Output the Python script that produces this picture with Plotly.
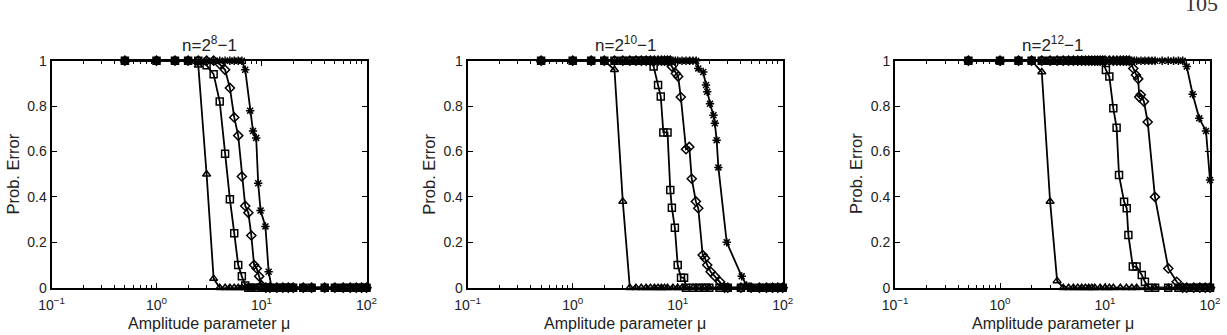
import plotly.graph_objects as go

# ---------------- data ----------------
tick_vals = [0.1, 1, 10, 100]
tick_text = ["10<sup>−1</sup>", "10<sup>0</sup>", "10<sup>1</sup>", "10<sup>2</sup>"]
y_ticks = [0, 0.2, 0.4, 0.6, 0.8, 1]
titles = ["n=2<sup>8</sup>−1", "n=2<sup>10</sup>−1", "n=2<sup>12</sup>−1"]

# ----- panel 1 : n = 2^8 - 1 -----
p1_tri_x = [0.5, 1, 1.5, 2, 2.5, 3, 3.5, 4, 4.5, 5, 5.5, 6, 6.5, 7, 7.5, 8, 9, 10, 11, 12, 14, 16, 18, 20, 25, 30, 40, 50, 60, 70, 80, 90, 100]
p1_tri_y = [1, 1, 1, 1, 0.98, 0.50, 0.04, 0, 0, 0, 0, 0, 0, 0, 0, 0, 0, 0, 0, 0, 0, 0, 0, 0, 0, 0, 0, 0, 0, 0, 0, 0, 0]

p1_sq_x = [0.5, 1, 1.5, 2, 2.5, 3, 3.5, 4, 4.5, 5, 5.5, 6, 6.5, 7, 7.5, 8, 9, 10, 11, 12, 14, 16, 18, 20, 25, 30, 40, 50, 60, 70, 80, 90, 100]
p1_sq_y = [1, 1, 1, 1, 1, 0.98, 0.94, 0.82, 0.59, 0.39, 0.24, 0.10, 0.05, 0.01, 0, 0, 0, 0, 0, 0, 0, 0, 0, 0, 0, 0, 0, 0, 0, 0, 0, 0, 0]

p1_dia_x = [0.5, 1, 1.5, 2, 2.5, 3, 3.5, 4, 4.5, 5, 5.5, 6, 6.5, 7, 7.5, 8, 8.5, 9, 9.5, 10, 11, 12, 14, 16, 18, 20, 25, 30, 40, 50, 60, 70, 80, 90, 100]
p1_dia_y = [1, 1, 1, 1, 1, 1, 1, 0.985, 0.96, 0.88, 0.75, 0.67, 0.49, 0.36, 0.33, 0.23, 0.10, 0.085, 0.05, 0.01, 0, 0, 0, 0, 0, 0, 0, 0, 0, 0, 0, 0, 0, 0, 0]

p1_star_x = [0.5, 1, 1.5, 2, 2.5, 3, 3.5, 4, 4.5, 5, 5.5, 6, 6.5, 7, 7.8, 8.3, 8.9, 9.3, 9.8, 10.9, 11.7, 12.5, 14, 16, 18, 20, 25, 30, 40, 50, 60, 70, 80, 90, 100]
p1_star_y = [1, 1, 1, 1, 1, 1, 1, 1, 1, 1, 1, 1, 1, 0.96, 0.78, 0.69, 0.66, 0.46, 0.34, 0.27, 0.07, 0, 0, 0, 0, 0, 0, 0, 0, 0, 0, 0, 0, 0, 0]

# ----- panel 2 : n = 2^10 - 1 -----
p2_tri_x = [0.5, 1, 1.5, 2, 2.5, 3, 3.5, 4, 4.5, 5, 5.5, 6, 6.5, 7, 7.5, 8, 9, 10, 11, 12, 14, 16, 18, 20, 25, 30, 40, 50, 60, 70, 80, 90, 100]
p2_tri_y = [1, 1, 1, 1, 0.96, 0.38, 0, 0, 0, 0, 0, 0, 0, 0, 0, 0, 0, 0, 0, 0, 0, 0, 0, 0, 0, 0, 0, 0, 0, 0, 0, 0, 0]

p2_sq_x = [0.5, 1, 1.5, 2, 2.5, 3, 3.5, 4, 4.5, 5, 5.5, 5.9, 6.5, 6.9, 7.3, 8.0, 8.5, 8.8, 9.4, 10, 10.75, 11.5, 12, 14, 16, 18, 20, 25, 30, 40, 50, 60, 70, 80, 90, 100]
p2_sq_y = [1, 1, 1, 1, 1, 1, 1, 1, 1, 1, 1, 0.974, 0.893, 0.842, 0.684, 0.684, 0.43, 0.352, 0.264, 0.10, 0.044, 0.044, 0, 0, 0, 0, 0, 0, 0, 0, 0, 0, 0, 0, 0, 0]

p2_dia_x = [0.5, 1, 1.5, 2, 2.5, 3, 3.5, 4, 4.5, 5, 5.5, 6, 6.5, 7, 7.5, 8, 8.5, 8.8, 9.6, 10.1, 10.7, 12, 12.9, 13.6, 14.9, 15.7, 17.3, 18.2, 19.1, 20.6, 22.6, 25.3, 28, 30, 40, 50, 60, 70, 80, 90, 100]
p2_dia_y = [1, 1, 1, 1, 1, 1, 1, 1, 1, 1, 1, 1, 1, 1, 1, 1, 1, 0.974, 0.944, 0.93, 0.84, 0.61, 0.62, 0.48, 0.38, 0.35, 0.144, 0.13, 0.10, 0.07, 0.05, 0.026, 0, 0, 0, 0, 0, 0, 0, 0, 0]

p2_star_x = [0.5, 1, 1.5, 2, 2.5, 3, 3.5, 4, 4.5, 5, 5.5, 6, 6.5, 7, 7.5, 8, 8.5, 9, 9.5, 10, 11, 12, 13, 14, 15, 15.7, 17.5, 18.6, 19.1, 20.3, 21.9, 22.6, 23.5, 24.4, 29.3, 40.7, 45.4, 50, 60, 70, 80, 90, 100]
p2_star_y = [1, 1, 1, 1, 1, 1, 1, 1, 1, 1, 1, 1, 1, 1, 1, 1, 1, 1, 1, 1, 1, 1, 1, 1, 1, 0.966, 0.95, 0.893, 0.863, 0.81, 0.76, 0.724, 0.65, 0.53, 0.20, 0.05, 0.01, 0, 0, 0, 0, 0, 0]

# ----- panel 3 : n = 2^12 - 1 -----
p3_tri_x = [0.5, 1, 1.5, 2, 2.5, 3, 3.5, 4, 4.5, 5, 5.5, 6, 6.5, 7, 7.5, 8, 9, 10, 11, 12, 14, 16, 18, 20, 25, 30, 40, 50, 60, 70, 80, 90, 100]
p3_tri_y = [1, 1, 1, 1, 0.95, 0.38, 0.03, 0, 0, 0, 0, 0, 0, 0, 0, 0, 0, 0, 0, 0, 0, 0, 0, 0, 0, 0, 0, 0, 0, 0, 0, 0, 0]

p3_sq_x = [0.5, 1, 1.5, 2, 2.5, 3, 3.5, 4, 4.5, 5, 5.5, 6, 6.5, 7, 7.5, 8, 8.5, 9, 9.5, 10.2, 11, 12, 12.9, 13.6, 15.2, 16.1, 16.7, 18.4, 20, 22.4, 24, 26, 30, 40, 50, 60, 70, 80, 90, 100]
p3_sq_y = [1, 1, 1, 1, 1, 1, 1, 1, 1, 1, 1, 1, 1, 1, 1, 1, 1, 1, 1, 0.959, 0.93, 0.79, 0.705, 0.496, 0.379, 0.35, 0.232, 0.093, 0.093, 0.056, 0.026, 0, 0, 0, 0, 0, 0, 0, 0, 0]

p3_dia_x = [0.5, 1, 1.5, 2, 2.5, 3, 3.5, 4, 4.5, 5, 5.5, 6, 6.5, 7, 7.5, 8, 8.5, 9, 9.5, 10, 11, 12, 13, 14, 15, 16, 17, 18.6, 19.7, 20.7, 21.2, 21.9, 23.5, 25.5, 29.9, 40.1, 48.2, 55, 60, 70, 80, 90, 100]
p3_dia_y = [1, 1, 1, 1, 1, 1, 1, 1, 1, 1, 1, 1, 1, 1, 1, 1, 1, 1, 1, 1, 1, 1, 1, 1, 1, 1, 1, 0.966, 0.937, 0.92, 0.84, 0.85, 0.82, 0.73, 0.40, 0.085, 0.026, 0, 0, 0, 0, 0, 0]

p3_star_x = [0.5, 1, 1.5, 2, 2.5, 3, 3.5, 4, 4.5, 5, 5.5, 6, 6.5, 7, 7.5, 8, 8.5, 9, 9.5, 10, 11, 12, 13, 14, 15, 16, 17, 18, 19, 20, 22, 24, 26, 28, 30, 35, 40, 45, 50, 55, 60, 68.4, 79, 91.6, 100]
p3_star_y = [1, 1, 1, 1, 1, 1, 1, 1, 1, 1, 1, 1, 1, 1, 1, 1, 1, 1, 1, 1, 1, 1, 1, 1, 1, 1, 1, 1, 1, 1, 1, 1, 1, 1, 1, 1, 1, 1, 1, 1, 0.974, 0.852, 0.746, 0.69, 0.474]

panels = [
    [(p1_tri_x, p1_tri_y), (p1_sq_x, p1_sq_y), (p1_dia_x, p1_dia_y), (p1_star_x, p1_star_y)],
    [(p2_tri_x, p2_tri_y), (p2_sq_x, p2_sq_y), (p2_dia_x, p2_dia_y), (p2_star_x, p2_star_y)],
    [(p3_tri_x, p3_tri_y), (p3_sq_x, p3_sq_y), (p3_dia_x, p3_dia_y), (p3_star_x, p3_star_y)],
]

# ---------------- styling / layout ----------------
W, H = 1227, 335
symbols = ["triangle-up-open", "square-open", "diamond-open", "asterisk-open"]
FONT = "Liberation Sans, Arial, sans-serif"
TXT = "#222222"

plot_left = [51.5, 467.7, 895.0]
plot_width = 315.0
plot_top, plot_bottom = 60.7, 287.7

minor_vals = [m * 10 ** e for e in (-1, 0, 1) for m in range(2, 10)]

fig = go.Figure()
layout = dict(
    template="none",
    width=W, height=H,
    margin=dict(l=0, r=0, t=0, b=0, pad=0, autoexpand=False),
    paper_bgcolor="white", plot_bgcolor="white",
    showlegend=False,
    font=dict(family=FONT, color=TXT),
)
annotations = []

for i, series in enumerate(panels):
    sfx = "" if i == 0 else str(i + 1)
    for (xs, ys), sym in zip(series, symbols):
        fig.add_trace(go.Scatter(
            x=xs, y=ys, mode="lines+markers",
            xaxis="x" + sfx, yaxis="y" + sfx,
            cliponaxis=False,
            line=dict(color="black", width=1.8),
            marker=dict(symbol=sym, size=7, color="black",
                        line=dict(color="black", width=1.5)),
            hoverinfo="skip",
        ))
    x0 = plot_left[i] / W
    x1 = (plot_left[i] + plot_width) / W
    y0 = 1 - plot_bottom / H
    y1 = 1 - plot_top / H
    layout["xaxis" + sfx] = dict(
        type="log", range=[-1, 2], domain=[x0, x1], anchor="y" + sfx,
        automargin=False,
        tickmode="array", tickvals=tick_vals, ticktext=tick_text,
        ticks="inside", ticklen=5, tickwidth=1, tickcolor="black",
        ticklabelstandoff=3,
        showline=True, linecolor="black", linewidth=2, mirror="ticks",
        showgrid=False, zeroline=False,
        tickfont=dict(size=14, family=FONT, color=TXT),
        minor=dict(tickmode="array", tickvals=minor_vals, ticks="inside",
                   ticklen=3, tickcolor="black", showgrid=False),
    )
    layout["yaxis" + sfx] = dict(
        range=[0, 1], domain=[y0, y1], anchor="x" + sfx,
        automargin=False,
        tickmode="array", tickvals=y_ticks,
        ticktext=["0", "0.2", "0.4", "0.6", "0.8", "1"],
        ticks="inside", ticklen=5, tickwidth=1, tickcolor="black",
        showline=True, linecolor="black", linewidth=2, mirror="ticks",
        showgrid=False, zeroline=False,
        tickfont=dict(size=14, family=FONT, color=TXT),
    )
    cx = (plot_left[i] + plot_width / 2) / W
    annotations.append(dict(
        text=titles[i], x=cx, y=1 - 44 / H, xref="paper", yref="paper",
        xanchor="center", yanchor="middle", showarrow=False,
        font=dict(size=17, family=FONT, color=TXT),
    ))
    annotations.append(dict(
        text="Amplitude parameter μ", x=cx, y=1 - 323 / H, xref="paper", yref="paper",
        xanchor="center", yanchor="middle", showarrow=False,
        font=dict(size=16, family=FONT, color=TXT),
    ))
    annotations.append(dict(
        text="Prob. Error", x=(plot_left[i] - 39) / W, y=1 - 174 / H,
        xref="paper", yref="paper", xanchor="center", yanchor="middle",
        textangle=-90, showarrow=False,
        font=dict(size=16.5, family=FONT, color=TXT),
    ))

annotations.append(dict(
    text="105", x=1183 / W, y=1 - 18 / H, xref="paper", yref="paper",
    xanchor="left", yanchor="bottom", showarrow=False,
    font=dict(size=22, family="Liberation Serif, serif", color="#333333"),
))

layout["annotations"] = annotations
fig.update_layout(**layout)
fig.write_html("out.html")
